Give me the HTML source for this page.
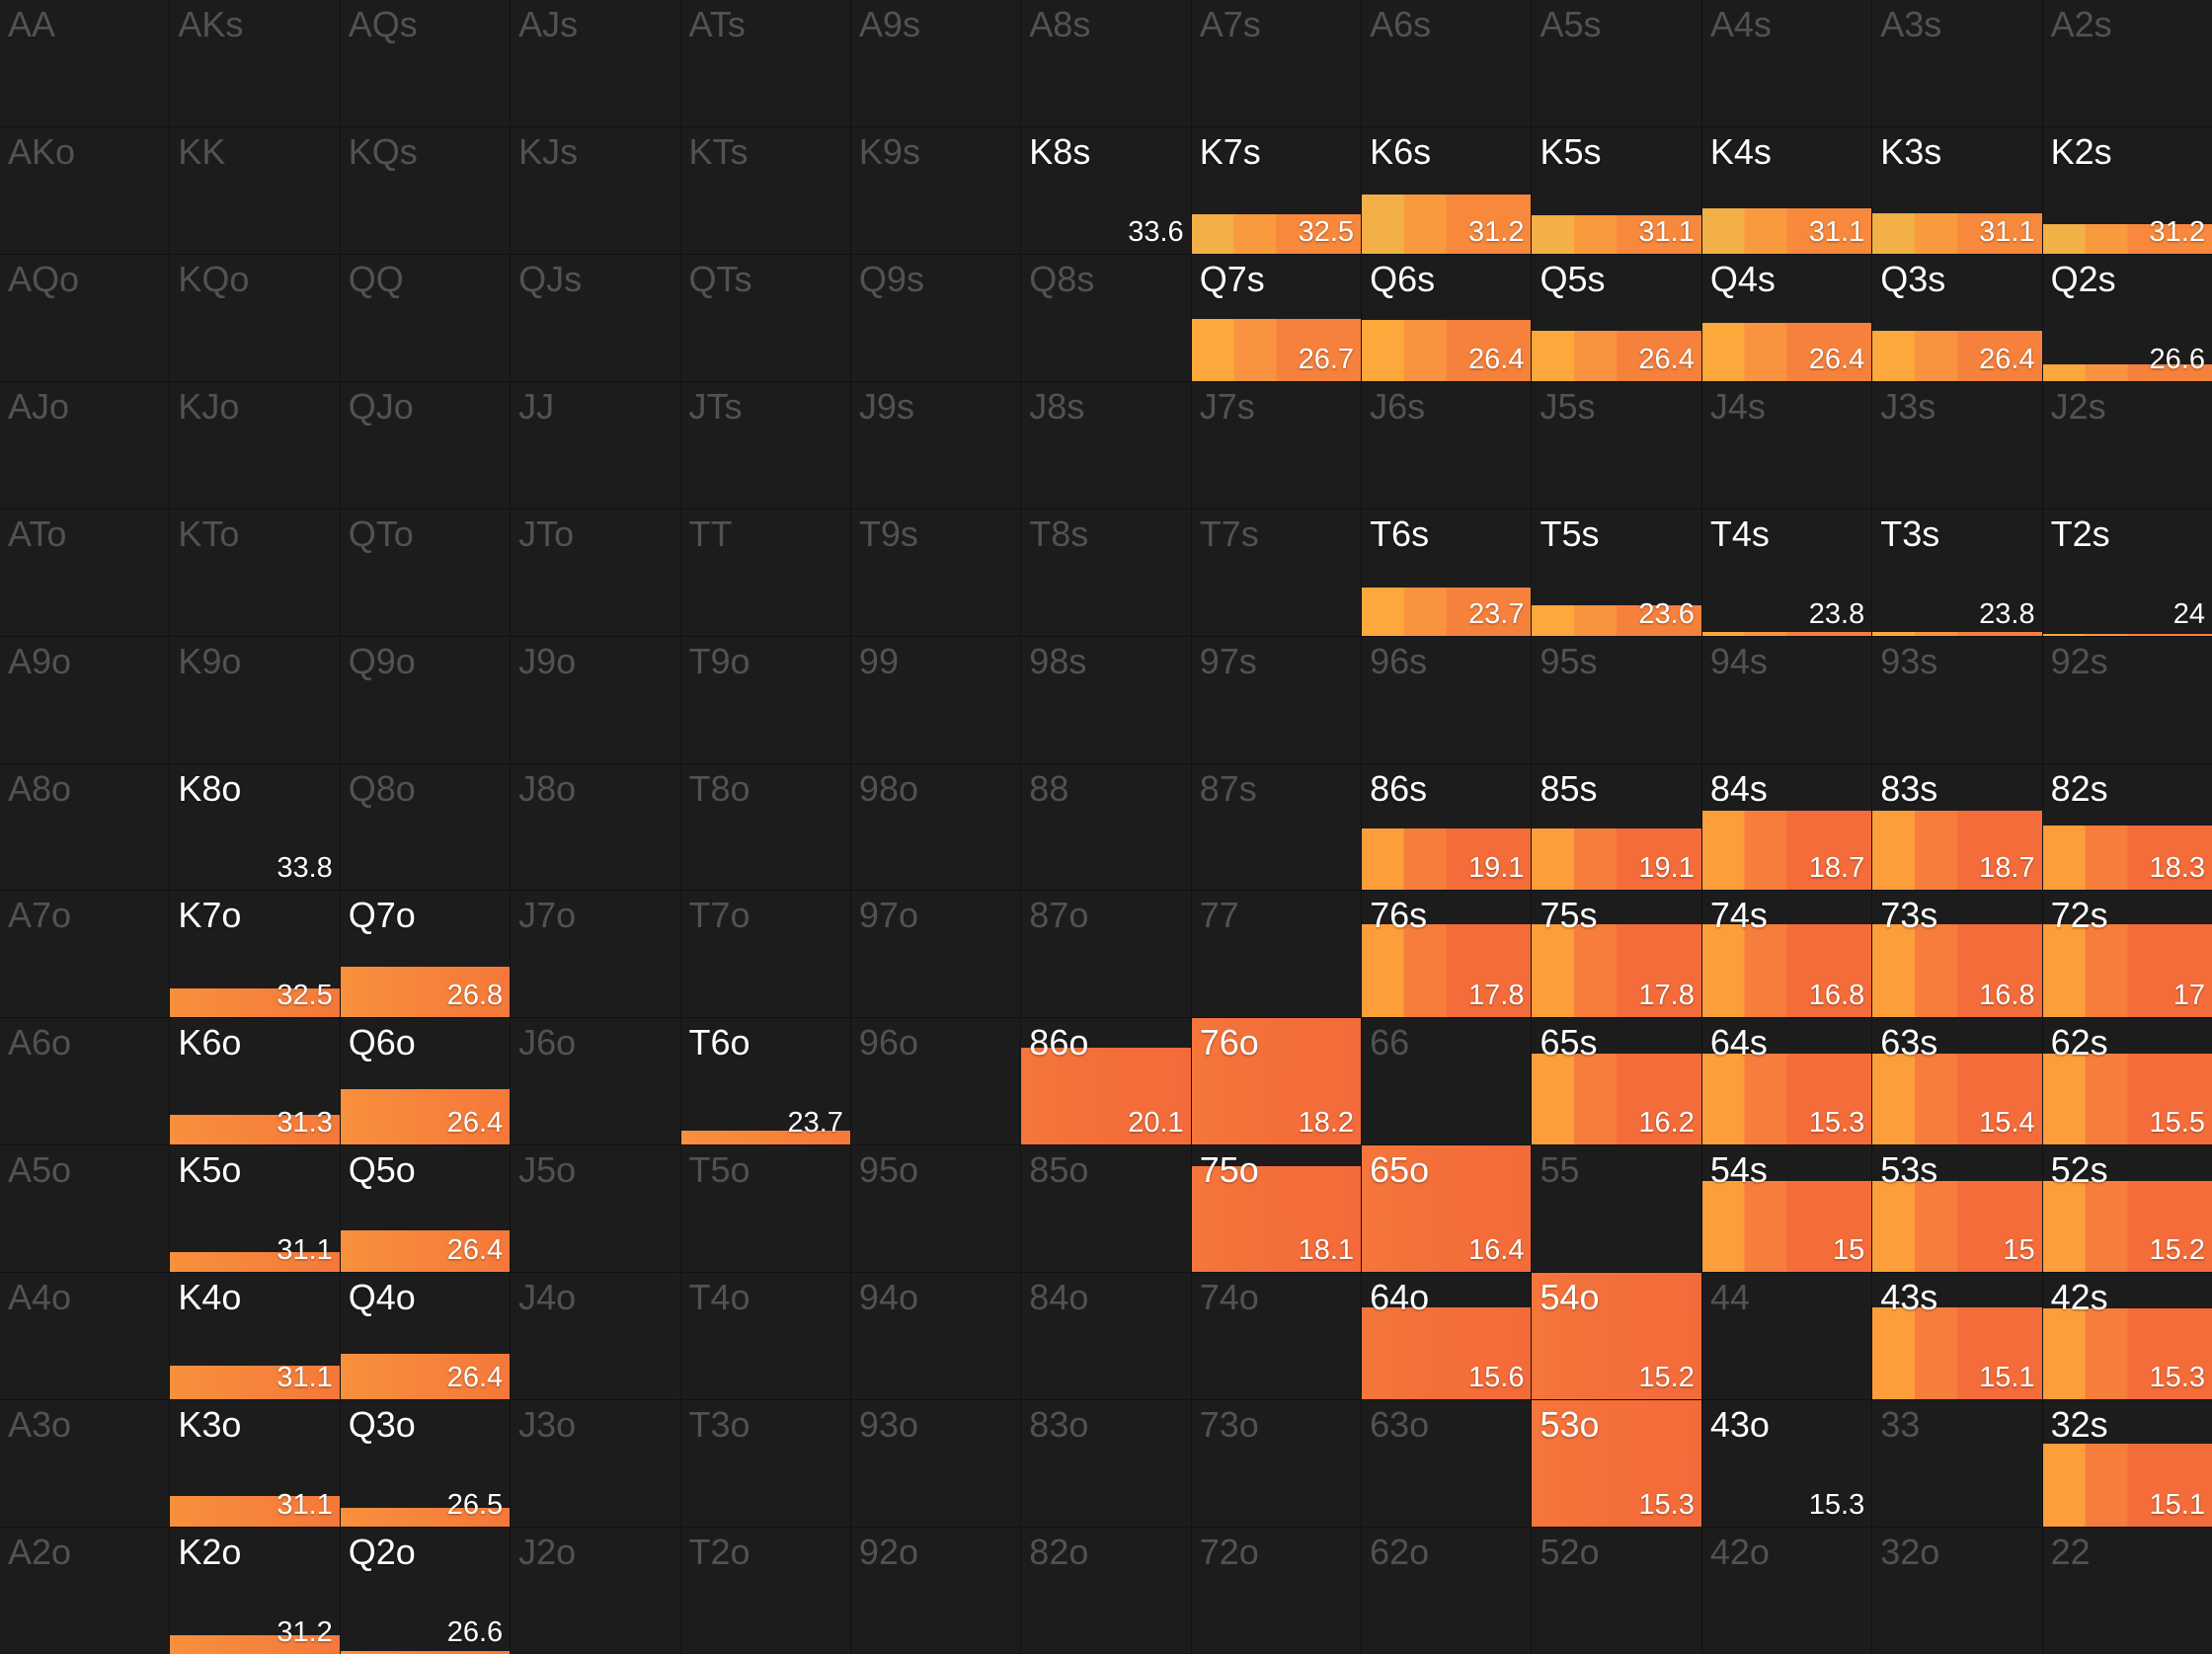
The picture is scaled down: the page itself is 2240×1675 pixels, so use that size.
<!DOCTYPE html>
<html><head><meta charset="utf-8"><style>
html,body{margin:0;padding:0;background:#121212;}
#g{width:2240px;height:1675px;display:grid;grid-template-columns:repeat(13,1fr);grid-template-rows:repeat(13,1fr);gap:1px;background:#121212;font-family:"Liberation Sans","DejaVu Sans",sans-serif;}
.c{position:relative;background:#1c1c1c;overflow:hidden;}
.c b{position:absolute;left:8px;top:4px;font-weight:normal;font-size:36px;color:#525252;z-index:2;}
.c.a b{color:#fff;text-shadow:0 1px 2px rgba(0,0,0,.4);}
.c u{position:absolute;right:7px;bottom:5px;text-decoration:none;font-size:29px;color:#fff;z-index:2;text-shadow:0 1px 2px rgba(0,0,0,.4);}
.c i{position:absolute;left:0;right:0;bottom:0;z-index:1;}
.k{background:linear-gradient(90deg,#f2b046 0 25%,#f99a3e 25% 50%,#f7883c 50%);}
.q{background:linear-gradient(90deg,#fda83a 0 25%,#f99340 25% 50%,#f6813c 50%);}
.s{background:linear-gradient(90deg,#fd9e3a 0 25%,#f67d3c 25% 50%,#f46c3a 50%);}
.o{background:linear-gradient(90deg,#f8903c,#f6843b 50%,#f5783a);}
.r{background:linear-gradient(90deg,#f5763a,#f46e3a 50%,#f36b3a 100%);}
</style></head><body><div id="g">
<div class="c"><b>AA</b></div><div class="c"><b>AKs</b></div><div class="c"><b>AQs</b></div><div class="c"><b>AJs</b></div><div class="c"><b>ATs</b></div><div class="c"><b>A9s</b></div><div class="c"><b>A8s</b></div><div class="c"><b>A7s</b></div><div class="c"><b>A6s</b></div><div class="c"><b>A5s</b></div><div class="c"><b>A4s</b></div><div class="c"><b>A3s</b></div><div class="c"><b>A2s</b></div>

<div class="c"><b>AKo</b></div><div class="c"><b>KK</b></div><div class="c"><b>KQs</b></div><div class="c"><b>KJs</b></div><div class="c"><b>KTs</b></div><div class="c"><b>K9s</b></div>
<div class="c a"><b>K8s</b><u>33.6</u></div>
<div class="c a"><i class="k" style="height:31%"></i><b>K7s</b><u>32.5</u></div>
<div class="c a"><i class="k" style="height:47%"></i><b>K6s</b><u>31.2</u></div>
<div class="c a"><i class="k" style="height:30%"></i><b>K5s</b><u>31.1</u></div>
<div class="c a"><i class="k" style="height:36%"></i><b>K4s</b><u>31.1</u></div>
<div class="c a"><i class="k" style="height:32%"></i><b>K3s</b><u>31.1</u></div>
<div class="c a"><i class="k" style="height:23%"></i><b>K2s</b><u>31.2</u></div>

<div class="c"><b>AQo</b></div><div class="c"><b>KQo</b></div><div class="c"><b>QQ</b></div><div class="c"><b>QJs</b></div><div class="c"><b>QTs</b></div><div class="c"><b>Q9s</b></div><div class="c"><b>Q8s</b></div>
<div class="c a"><i class="q" style="height:49%"></i><b>Q7s</b><u>26.7</u></div>
<div class="c a"><i class="q" style="height:48%"></i><b>Q6s</b><u>26.4</u></div>
<div class="c a"><i class="q" style="height:40%"></i><b>Q5s</b><u>26.4</u></div>
<div class="c a"><i class="q" style="height:46%"></i><b>Q4s</b><u>26.4</u></div>
<div class="c a"><i class="q" style="height:40%"></i><b>Q3s</b><u>26.4</u></div>
<div class="c a"><i class="q" style="height:13%"></i><b>Q2s</b><u>26.6</u></div>

<div class="c"><b>AJo</b></div><div class="c"><b>KJo</b></div><div class="c"><b>QJo</b></div><div class="c"><b>JJ</b></div><div class="c"><b>JTs</b></div><div class="c"><b>J9s</b></div><div class="c"><b>J8s</b></div><div class="c"><b>J7s</b></div><div class="c"><b>J6s</b></div><div class="c"><b>J5s</b></div><div class="c"><b>J4s</b></div><div class="c"><b>J3s</b></div><div class="c"><b>J2s</b></div>

<div class="c"><b>ATo</b></div><div class="c"><b>KTo</b></div><div class="c"><b>QTo</b></div><div class="c"><b>JTo</b></div><div class="c"><b>TT</b></div><div class="c"><b>T9s</b></div><div class="c"><b>T8s</b></div><div class="c"><b>T7s</b></div>
<div class="c a"><i class="q" style="height:38%"></i><b>T6s</b><u>23.7</u></div>
<div class="c a"><i class="q" style="height:24%"></i><b>T5s</b><u>23.6</u></div>
<div class="c a"><i class="q" style="height:3%"></i><b>T4s</b><u>23.8</u></div>
<div class="c a"><i class="q" style="height:3%"></i><b>T3s</b><u>23.8</u></div>
<div class="c a"><i class="q" style="height:1%"></i><b>T2s</b><u>24</u></div>

<div class="c"><b>A9o</b></div><div class="c"><b>K9o</b></div><div class="c"><b>Q9o</b></div><div class="c"><b>J9o</b></div><div class="c"><b>T9o</b></div><div class="c"><b>99</b></div><div class="c"><b>98s</b></div><div class="c"><b>97s</b></div><div class="c"><b>96s</b></div><div class="c"><b>95s</b></div><div class="c"><b>94s</b></div><div class="c"><b>93s</b></div><div class="c"><b>92s</b></div>

<div class="c"><b>A8o</b></div>
<div class="c a"><b>K8o</b><u>33.8</u></div>
<div class="c"><b>Q8o</b></div><div class="c"><b>J8o</b></div><div class="c"><b>T8o</b></div><div class="c"><b>98o</b></div><div class="c"><b>88</b></div><div class="c"><b>87s</b></div>
<div class="c a"><i class="s" style="height:49%"></i><b>86s</b><u>19.1</u></div>
<div class="c a"><i class="s" style="height:49%"></i><b>85s</b><u>19.1</u></div>
<div class="c a"><i class="s" style="height:63%"></i><b>84s</b><u>18.7</u></div>
<div class="c a"><i class="s" style="height:63%"></i><b>83s</b><u>18.7</u></div>
<div class="c a"><i class="s" style="height:51%"></i><b>82s</b><u>18.3</u></div>

<div class="c"><b>A7o</b></div>
<div class="c a"><i class="o" style="height:23%"></i><b>K7o</b><u>32.5</u></div>
<div class="c a"><i class="o" style="height:40%"></i><b>Q7o</b><u>26.8</u></div>
<div class="c"><b>J7o</b></div><div class="c"><b>T7o</b></div><div class="c"><b>97o</b></div><div class="c"><b>87o</b></div><div class="c"><b>77</b></div>
<div class="c a"><i class="s" style="height:74%"></i><b>76s</b><u>17.8</u></div>
<div class="c a"><i class="s" style="height:74%"></i><b>75s</b><u>17.8</u></div>
<div class="c a"><i class="s" style="height:74%"></i><b>74s</b><u>16.8</u></div>
<div class="c a"><i class="s" style="height:74%"></i><b>73s</b><u>16.8</u></div>
<div class="c a"><i class="s" style="height:74%"></i><b>72s</b><u>17</u></div>

<div class="c"><b>A6o</b></div>
<div class="c a"><i class="o" style="height:24%"></i><b>K6o</b><u>31.3</u></div>
<div class="c a"><i class="o" style="height:44%"></i><b>Q6o</b><u>26.4</u></div>
<div class="c"><b>J6o</b></div>
<div class="c a"><i class="o" style="height:11%"></i><b>T6o</b><u>23.7</u></div>
<div class="c"><b>96o</b></div>
<div class="c a"><i class="r" style="height:77%"></i><b>86o</b><u>20.1</u></div>
<div class="c a"><i class="r" style="height:100%"></i><b>76o</b><u>18.2</u></div>
<div class="c"><b>66</b></div>
<div class="c a"><i class="s" style="height:72%"></i><b>65s</b><u>16.2</u></div>
<div class="c a"><i class="s" style="height:72%"></i><b>64s</b><u>15.3</u></div>
<div class="c a"><i class="s" style="height:72%"></i><b>63s</b><u>15.4</u></div>
<div class="c a"><i class="s" style="height:72%"></i><b>62s</b><u>15.5</u></div>

<div class="c"><b>A5o</b></div>
<div class="c a"><i class="o" style="height:16%"></i><b>K5o</b><u>31.1</u></div>
<div class="c a"><i class="o" style="height:33%"></i><b>Q5o</b><u>26.4</u></div>
<div class="c"><b>J5o</b></div><div class="c"><b>T5o</b></div><div class="c"><b>95o</b></div><div class="c"><b>85o</b></div>
<div class="c a"><i class="r" style="height:84%"></i><b>75o</b><u>18.1</u></div>
<div class="c a"><i class="r" style="height:100%"></i><b>65o</b><u>16.4</u></div>
<div class="c"><b>55</b></div>
<div class="c a"><i class="s" style="height:72%"></i><b>54s</b><u>15</u></div>
<div class="c a"><i class="s" style="height:72%"></i><b>53s</b><u>15</u></div>
<div class="c a"><i class="s" style="height:72%"></i><b>52s</b><u>15.2</u></div>

<div class="c"><b>A4o</b></div>
<div class="c a"><i class="o" style="height:27%"></i><b>K4o</b><u>31.1</u></div>
<div class="c a"><i class="o" style="height:36%"></i><b>Q4o</b><u>26.4</u></div>
<div class="c"><b>J4o</b></div><div class="c"><b>T4o</b></div><div class="c"><b>94o</b></div><div class="c"><b>84o</b></div><div class="c"><b>74o</b></div>
<div class="c a"><i class="r" style="height:73%"></i><b>64o</b><u>15.6</u></div>
<div class="c a"><i class="r" style="height:100%"></i><b>54o</b><u>15.2</u></div>
<div class="c"><b>44</b></div>
<div class="c a"><i class="s" style="height:73%"></i><b>43s</b><u>15.1</u></div>
<div class="c a"><i class="s" style="height:72%"></i><b>42s</b><u>15.3</u></div>

<div class="c"><b>A3o</b></div>
<div class="c a"><i class="o" style="height:24%"></i><b>K3o</b><u>31.1</u></div>
<div class="c a"><i class="o" style="height:15%"></i><b>Q3o</b><u>26.5</u></div>
<div class="c"><b>J3o</b></div><div class="c"><b>T3o</b></div><div class="c"><b>93o</b></div><div class="c"><b>83o</b></div><div class="c"><b>73o</b></div><div class="c"><b>63o</b></div>
<div class="c a"><i class="r" style="height:100%"></i><b>53o</b><u>15.3</u></div>
<div class="c a"><b>43o</b><u>15.3</u></div>
<div class="c"><b>33</b></div>
<div class="c a"><i class="s" style="height:66%"></i><b>32s</b><u>15.1</u></div>

<div class="c"><b>A2o</b></div>
<div class="c a"><i class="o" style="height:15%"></i><b>K2o</b><u>31.2</u></div>
<div class="c a"><i class="o" style="height:2%"></i><b>Q2o</b><u>26.6</u></div>
<div class="c"><b>J2o</b></div><div class="c"><b>T2o</b></div><div class="c"><b>92o</b></div><div class="c"><b>82o</b></div><div class="c"><b>72o</b></div><div class="c"><b>62o</b></div><div class="c"><b>52o</b></div><div class="c"><b>42o</b></div><div class="c"><b>32o</b></div><div class="c"><b>22</b></div>
</div></body></html>
